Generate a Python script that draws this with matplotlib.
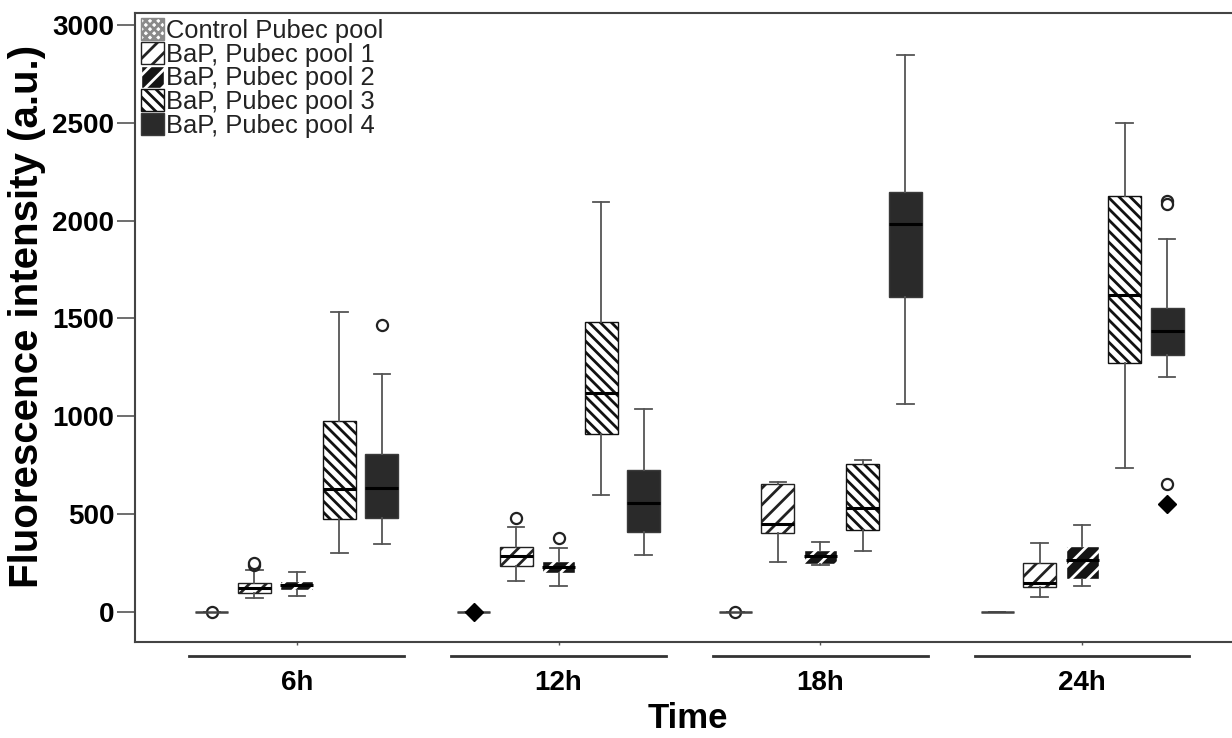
"""Boxplots of fluorescence intensity per Pubec pool over time."""

import matplotlib.pyplot as plt
import matplotlib.transforms as mtransforms
from matplotlib.patches import Patch

plt.rcParams["font.family"] = ["Liberation Sans", "DejaVu Sans"]
plt.rcParams["hatch.linewidth"] = 2.0

times = ["6h", "12h", "18h", "24h"]
series = ["Control Pubec pool", "BaP, Pubec pool 1", "BaP, Pubec pool 2",
          "BaP, Pubec pool 3", "BaP, Pubec pool 4"]

# one entry per time point (6h, 12h, 18h, 24h)
control_med = [0, 0, 0, 0]
control_q1 = [0, 0, 0, 0]
control_q3 = [0, 0, 0, 0]
control_lo = [0, 0, 0, 0]
control_hi = [0, 0, 0, 0]
control_out = [[0], [], [0], []]
control_ext = [[], [0], [], []]

pool1_med = [121, 286, 446, 148]
pool1_q1 = [96, 234, 400, 125]
pool1_q3 = [147, 332, 651, 247]
pool1_lo = [70, 157, 254, 74]
pool1_hi = [213, 435, 662, 350]
pool1_out = [[240, 248], [479], [], []]
pool1_ext = [[], [], [], []]

pool2_med = [137, 227, 285, 264]
pool2_q1 = [111, 196, 243, 166]
pool2_q3 = [159, 259, 317, 337]
pool2_lo = [80, 131, 237, 133]
pool2_hi = [205, 324, 358, 443]
pool2_out = [[], [377], [], []]
pool2_ext = [[], [], [], []]

pool3_med = [627, 1117, 530, 1619]
pool3_q1 = [474, 907, 416, 1273]
pool3_q3 = [975, 1483, 756, 2126]
pool3_lo = [300, 597, 310, 733]
pool3_hi = [1530, 2095, 773, 2500]
pool3_out = [[], [], [], []]
pool3_ext = [[], [], [], []]

pool4_med = [634, 557, 1980, 1435]
pool4_q1 = [481, 409, 1608, 1313]
pool4_q3 = [806, 725, 2147, 1551]
pool4_lo = [348, 291, 1064, 1202]
pool4_hi = [1215, 1035, 2848, 1906]
pool4_out = [[1466], [], [], [2100, 2085, 652]]
pool4_ext = [[], [], [], [553]]

groups = [
    (control_med, control_q1, control_q3, control_lo, control_hi, control_out, control_ext),
    (pool1_med, pool1_q1, pool1_q3, pool1_lo, pool1_hi, pool1_out, pool1_ext),
    (pool2_med, pool2_q1, pool2_q3, pool2_lo, pool2_hi, pool2_out, pool2_ext),
    (pool3_med, pool3_q1, pool3_q3, pool3_lo, pool3_hi, pool3_out, pool3_ext),
    (pool4_med, pool4_q1, pool4_q3, pool4_lo, pool4_hi, pool4_out, pool4_ext),
]

# fill styles: facecolor, edgecolor (also hatch colour), hatch
styles = [
    dict(facecolor="white", edgecolor="#8a8a8a", hatch="xxxx"),
    dict(facecolor="white", edgecolor="#222222", hatch="//"),
    dict(facecolor="#151515", edgecolor="white", hatch="//"),
    dict(facecolor="white", edgecolor="#111111", hatch="\\\\\\"),
    dict(facecolor="#2a2a2a", edgecolor="#3a3a3a", hatch=None),
]

offset = 0.1623
box_w = 0.126

fig = plt.figure(figsize=(12.32, 7.38), dpi=100)
ax = fig.add_axes([0.1096, 0.1301, 0.8969, 0.8523])

for k, (med, q1, q3, lo, hi, out, ext) in enumerate(groups):
    stats = []
    for i in range(len(times)):
        stats.append(dict(med=med[i], q1=q1[i], q3=q3[i], whislo=lo[i],
                          whishi=hi[i], fliers=out[i]))
    pos = [i + (k - 2) * offset for i in range(len(times))]
    bp = ax.bxp(stats, positions=pos, widths=box_w, patch_artist=True,
                capwidths=box_w * 0.5, manage_ticks=False,
                whiskerprops=dict(color="#555555", linewidth=1.3),
                capprops=dict(color="#555555", linewidth=1.3),
                medianprops=dict(color="black", linewidth=2.2),
                flierprops=dict(marker="o", markersize=8,
                                markerfacecolor="white",
                                markeredgecolor="#222222",
                                markeredgewidth=1.6))
    for box in bp["boxes"]:
        box.set_facecolor(styles[k]["facecolor"])
        box.set_edgecolor(styles[k]["edgecolor"])
        box.set_linewidth(1.0)
        if styles[k]["hatch"]:
            box.set_hatch(styles[k]["hatch"])
    if k == 0:
        for m in bp["medians"]:
            m.set_color("#444444")
            m.set_linewidth(1.8)
    for i in range(len(times)):
        for v in ext[i]:
            ax.plot(pos[i], v, marker="D", markersize=9, color="black",
                    linestyle="none", zorder=4)

ax.set_xlim(-0.618, 3.603)
ax.set_ylim(-155, 3061)
ax.set_yticks([0, 500, 1000, 1500, 2000, 2500, 3000])
ax.tick_params(axis="y", length=13, width=1.2, color="#555555", pad=2,
               labelsize=20)
for lab in ax.get_yticklabels():
    lab.set_fontweight("bold")

ax.set_xticks(range(len(times)))
ax.set_xticklabels(times, fontsize=20, fontweight="bold")
ax.tick_params(axis="x", length=2, width=1, color="#555555", pad=18.5)

for sp in ax.spines.values():
    sp.set_color("#444444")
    sp.set_linewidth(1.5)

# group underlines below the axis
trans = mtransforms.blended_transform_factory(ax.transData, ax.transAxes)
for i in range(len(times)):
    ax.plot([i - 0.41, i + 0.41], [-0.023, -0.023], color="#333333",
            linewidth=2, transform=trans, clip_on=False)

ax.set_ylabel("Fluorescence intensity (a.u.)", fontsize=29,
              fontweight="bold")
ax.yaxis.set_label_coords(-0.081, 0.518)
ax.set_xlabel("Time", fontsize=25, fontweight="bold", labelpad=4)

handles = [Patch(facecolor=s["facecolor"], edgecolor=s["edgecolor"],
                 hatch=s["hatch"], linewidth=1.0) for s in styles]
ax.legend(handles, series, loc="upper left", frameon=False, fontsize=18.4,
          handlelength=0.9, handleheight=0.95, handletextpad=0.1,
          labelspacing=-0.04, borderaxespad=0.0, borderpad=0.0,
          bbox_to_anchor=(0.005, 0.992), labelcolor="#222222")

fig.savefig("out.png", dpi=100)
